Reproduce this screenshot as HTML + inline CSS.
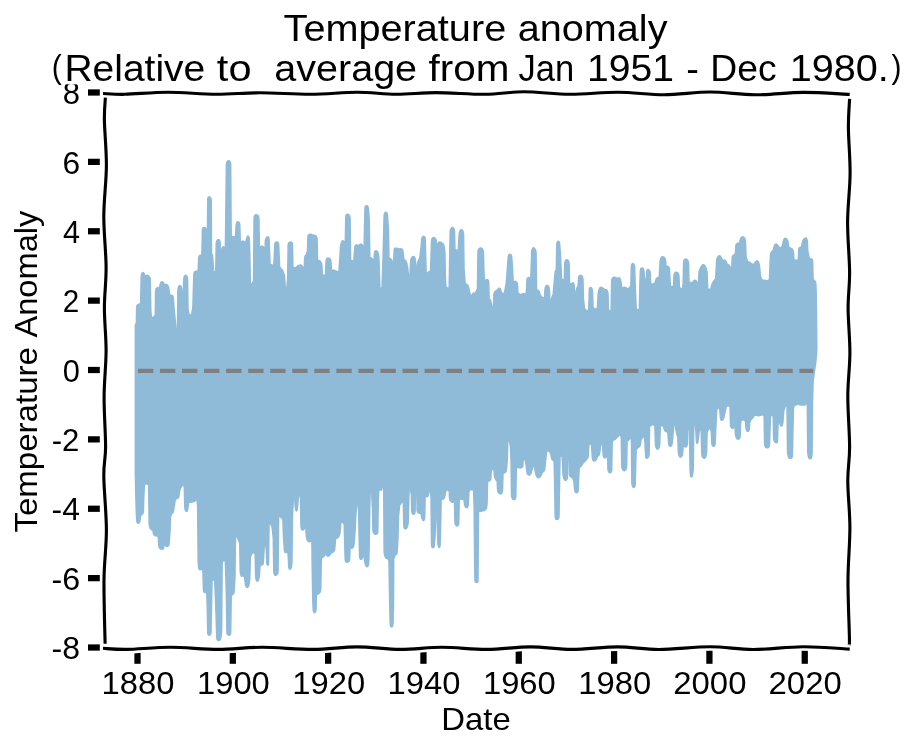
<!DOCTYPE html>
<html><head><meta charset="utf-8"><style>
html,body{margin:0;padding:0;background:#fff;overflow:hidden;}
svg{display:block;will-change:transform;}
text{font-family:"Liberation Sans", sans-serif;fill:#000;white-space:pre;}
</style></head><body>
<svg width="916" height="751" viewBox="0 0 916 751">
<rect width="916" height="751" fill="#fff"/>
<rect x="134.38" y="647" width="6.25" height="16.8" fill="#000"/>
<rect x="229.69" y="647" width="6.25" height="16.8" fill="#000"/>
<rect x="325.01" y="647" width="6.25" height="16.8" fill="#000"/>
<rect x="420.33" y="647" width="6.25" height="16.8" fill="#000"/>
<rect x="515.65" y="647" width="6.25" height="16.8" fill="#000"/>
<rect x="610.98" y="647" width="6.25" height="16.8" fill="#000"/>
<rect x="706.29" y="647" width="6.25" height="16.8" fill="#000"/>
<rect x="801.62" y="647" width="6.25" height="16.8" fill="#000"/>
<rect x="88" y="644.39" width="11.8" height="6.25" fill="#000"/>
<rect x="88" y="575.01" width="11.8" height="6.25" fill="#000"/>
<rect x="88" y="505.63" width="11.8" height="6.25" fill="#000"/>
<rect x="88" y="436.25" width="11.8" height="6.25" fill="#000"/>
<rect x="88" y="366.88" width="11.8" height="6.25" fill="#000"/>
<rect x="88" y="297.50" width="11.8" height="6.25" fill="#000"/>
<rect x="88" y="228.12" width="11.8" height="6.25" fill="#000"/>
<rect x="88" y="158.74" width="11.8" height="6.25" fill="#000"/>
<rect x="88" y="89.36" width="11.8" height="6.25" fill="#000"/>
<path d="M135.33,350.00 L135.33,326.43 Q135.33,324.43 135.86,323.76 L136.39,323.10 L136.63,307.79 Q136.66,305.79 137.32,305.12 L137.32,305.12 Q137.99,304.46 138.92,304.19 L139.85,303.93 L140.65,303.13 L141.15,277.17 Q141.19,275.17 141.72,273.84 L141.72,273.84 Q142.25,272.50 143.05,272.50 L143.05,272.50 Q143.85,272.50 144.25,273.84 L144.65,275.17 L145.98,275.70 L146.78,275.44 Q147.58,275.17 148.38,275.84 L148.38,275.84 Q149.17,276.50 149.70,277.16 L149.70,277.16 Q150.24,277.83 150.27,279.83 L150.77,309.79 L151.30,316.44 L152.64,317.78 L154.50,316.44 L155.30,315.11 L155.55,291.81 Q155.57,289.81 156.10,288.88 L156.10,288.88 Q156.63,287.95 157.43,287.55 L157.43,287.55 Q158.23,287.15 158.76,288.48 L159.29,289.81 L160.04,285.13 Q160.36,283.16 160.89,282.49 L160.89,282.49 Q161.42,281.82 162.22,281.82 L162.22,281.82 Q163.02,281.82 163.56,283.15 L164.09,284.49 L165.69,284.49 L166.49,284.49 Q167.28,284.49 167.95,285.82 L167.95,285.82 Q168.62,287.15 168.86,289.14 L169.41,293.81 L170.48,295.14 L171.28,295.14 Q172.08,295.14 172.61,295.81 L172.61,295.81 Q173.14,296.47 173.29,298.46 L173.94,307.12 L175.07,318.45 Q175.27,320.44 175.44,322.43 L176.60,336.42 L177.40,336.42 L177.92,290.48 Q177.94,288.48 178.47,287.15 L178.47,287.15 Q179.00,285.82 179.80,285.56 L179.80,285.56 Q180.60,285.29 181.13,286.88 L181.13,286.88 Q181.66,288.48 181.82,290.47 L182.20,295.14 L183.26,295.14 L183.73,279.83 Q183.79,277.83 184.32,276.50 L184.32,276.50 Q184.86,275.17 185.66,275.17 L185.66,275.17 Q186.46,275.17 186.99,276.50 L186.99,276.50 Q187.52,277.83 187.55,279.83 L188.06,309.79 L189.12,315.11 L190.72,315.11 L191.78,313.78 L192.85,307.12 L193.85,274.50 Q193.91,272.50 194.71,271.84 L194.71,271.84 Q195.51,271.17 196.05,271.17 L196.58,271.17 L198.18,271.17 L198.64,258.52 Q198.71,256.52 199.24,255.85 L199.24,255.85 Q199.77,255.19 200.57,255.19 L201.37,255.19 L201.90,253.86 L202.40,230.56 Q202.44,228.56 202.97,227.89 L202.97,227.89 Q203.50,227.23 204.30,227.50 L204.30,227.50 Q205.10,227.76 205.63,228.16 L205.63,228.16 Q206.17,228.56 206.22,230.56 L206.70,251.20 L207.23,253.86 L207.74,199.94 Q207.76,197.94 208.30,197.27 L208.30,197.27 Q208.83,196.60 209.63,197.00 L209.63,197.00 Q210.43,197.40 210.83,198.34 L210.83,198.34 Q211.23,199.27 211.24,201.27 L211.49,253.86 L212.03,254.53 Q212.56,255.19 212.69,257.19 L213.62,271.17 L214.69,272.50 L215.75,271.17 L216.24,243.88 Q216.28,241.88 216.81,240.94 L216.81,240.94 Q217.35,240.01 218.15,239.75 L218.15,239.75 Q218.95,239.48 219.48,240.01 L219.48,240.01 Q220.01,240.55 220.09,242.55 L220.55,253.86 L221.61,251.20 L221.88,249.18 Q222.14,247.20 222.94,246.80 L222.94,246.80 Q223.74,246.40 224.28,247.47 L224.28,247.47 Q224.81,248.54 225.01,250.53 L225.34,253.86 L226.38,165.32 Q226.40,163.32 226.94,161.99 L226.94,161.99 Q227.47,160.65 228.53,160.65 L228.53,160.65 Q229.60,160.65 230.13,161.72 L230.13,161.72 Q230.67,162.78 230.68,164.78 L231.20,240.55 L231.75,238.48 Q232.26,236.55 233.06,236.55 L233.06,236.55 Q233.86,236.55 234.66,237.22 L235.46,237.88 L235.89,229.23 Q235.99,227.23 236.21,225.24 L236.30,224.43 Q236.52,222.44 237.32,221.91 L237.32,221.91 Q238.12,221.37 238.92,222.31 L238.92,222.31 Q239.72,223.24 239.78,225.24 L240.25,240.55 L241.32,243.21 L241.58,242.55 Q241.85,241.88 242.38,241.22 L242.38,241.22 Q242.92,240.55 243.71,241.22 L243.71,241.22 Q244.51,241.88 245.05,242.55 L245.58,243.21 L245.85,241.88 Q246.11,240.55 246.63,238.62 L246.66,238.48 Q247.18,236.55 247.71,236.15 L247.71,236.15 Q248.24,235.75 248.78,236.81 L248.78,236.81 Q249.31,237.88 249.37,239.88 L249.78,254.52 Q249.84,256.52 249.88,258.52 L250.37,283.16 L251.44,284.49 L252.50,283.16 L253.57,280.49 L254.08,218.58 Q254.10,216.58 254.63,215.65 L254.63,215.65 Q255.17,214.71 256.24,214.71 L256.24,214.71 Q257.30,214.71 258.10,215.65 L258.10,215.65 Q258.89,216.58 258.92,218.58 L259.43,251.20 L259.98,249.13 Q260.49,247.20 261.02,246.53 L261.02,246.53 Q261.56,245.87 262.36,246.13 L262.36,246.13 Q263.16,246.40 263.69,247.47 L263.69,247.47 Q264.22,248.54 264.27,250.54 L264.75,269.84 L265.25,242.55 Q265.29,240.55 265.82,238.95 L265.82,238.95 Q266.35,237.35 267.15,236.95 L267.15,236.95 Q267.95,236.55 268.48,237.22 L268.48,237.22 Q269.01,237.88 269.09,239.88 L270.08,264.51 L270.62,264.51 Q271.15,264.51 272.48,265.18 L273.81,265.85 L274.78,245.21 Q274.87,243.21 275.40,242.55 L275.40,242.55 Q275.94,241.88 276.74,241.88 L276.74,241.88 Q277.54,241.88 278.07,242.55 L278.07,242.55 Q278.60,243.21 278.69,245.21 L279.67,267.18 L280.73,268.51 L281.53,269.17 Q282.33,269.84 282.87,271.17 L282.87,271.17 Q283.40,272.50 283.93,273.84 L283.93,273.84 Q284.46,275.17 284.59,277.17 L285.53,291.15 L286.59,291.15 L287.66,277.83 L288.16,245.21 Q288.19,243.21 288.99,242.55 L288.99,242.55 Q289.79,241.88 290.59,241.88 L290.59,241.88 Q291.38,241.88 291.91,242.55 L291.91,242.55 Q292.45,243.21 292.49,245.21 L292.98,269.84 L293.51,268.51 Q294.05,267.18 294.58,267.85 L295.11,268.51 L295.64,267.85 Q296.18,267.18 296.98,266.51 L296.98,266.51 Q297.78,265.85 298.57,265.45 L298.57,265.45 Q299.37,265.05 300.44,265.05 L300.44,265.05 Q301.50,265.05 302.30,266.12 L302.30,266.12 Q303.10,267.18 303.62,269.11 L304.17,271.17 L304.63,258.52 Q304.70,256.52 305.28,255.85 L305.86,255.19 L307.46,251.20 L307.92,237.22 Q307.99,235.22 308.79,234.56 L308.79,234.56 Q309.59,233.89 310.65,234.29 L311.72,234.69 L313.85,235.22 L314.92,235.49 Q315.98,235.75 316.51,236.81 L316.51,236.81 Q317.04,237.88 317.09,239.88 L317.58,260.52 L318.38,260.52 Q319.17,260.52 319.97,260.92 L319.97,260.92 Q320.77,261.32 321.30,262.91 L321.30,262.91 Q321.84,264.51 321.94,266.51 L322.37,274.63 L323.97,275.17 L325.57,275.17 L326.03,261.19 Q326.10,259.19 326.90,258.52 L326.90,258.52 Q327.70,257.86 328.76,258.26 L328.76,258.26 Q329.83,258.66 330.36,259.19 L330.36,259.19 Q330.89,259.72 330.98,261.72 L331.42,271.17 L331.96,270.77 Q332.49,270.37 333.29,270.11 L333.29,270.11 Q334.09,269.84 334.89,270.50 L335.69,271.17 L336.49,271.17 Q337.28,271.17 338.08,271.84 L338.88,272.50 L339.95,256.52 L340.38,247.87 Q340.48,245.87 341.06,243.95 L341.50,242.47 Q342.08,240.55 342.88,240.81 L342.88,240.81 Q343.68,241.08 344.48,242.15 L345.27,243.21 L345.77,217.25 Q345.81,215.25 346.61,214.58 L346.61,214.58 Q347.40,213.91 348.20,214.31 L348.20,214.31 Q349.00,214.71 349.53,215.65 L349.53,215.65 Q350.07,216.58 350.09,218.58 L350.60,260.52 L351.40,260.52 Q352.20,260.52 353.00,261.19 L353.79,261.85 L354.73,247.87 Q354.86,245.87 355.66,245.20 L355.66,245.20 Q356.46,244.54 357.26,245.20 L358.06,245.87 L358.86,245.20 Q359.65,244.54 360.45,244.14 L360.45,244.14 Q361.25,243.74 362.05,244.81 L362.05,244.81 Q362.85,245.87 363.05,247.86 L363.91,256.52 L364.94,208.46 Q364.98,206.46 365.78,205.93 L365.78,205.93 Q366.58,205.39 367.38,205.93 L367.38,205.93 Q368.18,206.46 368.35,208.45 L369.07,217.25 Q369.24,219.24 369.27,221.24 L369.77,257.86 L370.57,257.86 Q371.37,257.86 372.17,258.52 L372.17,258.52 Q372.97,259.19 373.50,260.52 L374.03,261.85 L374.47,253.20 Q374.57,251.20 375.37,250.94 L375.37,250.94 Q376.17,250.67 376.97,251.20 L376.97,251.20 Q377.76,251.73 378.20,253.68 L378.39,254.57 Q378.83,256.52 378.90,258.52 L379.89,288.48 L380.96,289.01 L382.02,287.15 L383.09,256.52 L384.10,215.91 Q384.15,213.91 384.95,212.84 L384.95,212.84 Q385.75,211.78 386.55,212.58 L386.55,212.58 Q387.35,213.38 387.48,215.38 L388.29,227.89 Q388.42,229.89 388.46,231.89 L388.95,257.86 L389.75,258.26 Q390.55,258.66 391.08,259.19 L391.08,259.19 Q391.61,259.72 391.88,260.79 L391.88,260.79 Q392.14,261.85 392.41,263.83 L393.21,269.84 L394.17,250.54 Q394.27,248.54 395.07,248.27 L395.07,248.27 Q395.87,248.00 396.67,248.27 L397.47,248.54 L399.07,249.07 L400.13,248.81 Q401.20,248.54 402.00,249.20 L402.00,249.20 Q402.80,249.87 403.03,251.86 L403.86,259.19 L404.66,259.86 Q405.46,260.52 405.99,261.19 L405.99,261.19 Q406.52,261.85 406.91,263.81 L407.20,265.22 Q407.59,267.18 407.79,269.17 L408.66,277.83 L409.72,279.16 L410.68,261.19 Q410.79,259.19 411.59,257.86 L411.59,257.86 Q412.38,256.52 413.18,256.52 L413.18,256.52 Q413.98,256.52 414.51,257.19 L414.51,257.19 Q415.05,257.86 415.28,259.85 L415.88,265.19 Q416.11,267.18 416.21,269.18 L416.64,277.83 L417.58,263.85 Q417.71,261.85 418.65,260.09 L419.84,257.86 L420.91,248.54 L421.78,239.34 Q421.97,237.35 422.77,236.55 L422.77,236.55 Q423.57,235.75 424.37,236.55 L424.37,236.55 Q425.17,237.35 425.23,239.35 L425.70,256.52 L426.23,275.17 L427.03,273.84 Q427.83,272.50 428.63,271.84 L428.63,271.84 Q429.43,271.17 429.96,271.84 L430.49,272.50 L431.50,241.21 Q431.56,239.21 432.36,238.28 L432.36,238.28 Q433.16,237.35 434.23,237.62 L434.23,237.62 Q435.29,237.88 435.82,239.22 L435.82,239.22 Q436.35,240.55 436.39,242.55 L436.88,267.18 L437.86,245.21 Q437.95,243.21 438.48,242.55 L438.48,242.55 Q439.01,241.88 439.81,241.88 L439.81,241.88 Q440.61,241.88 441.41,242.55 L442.21,243.21 L443.01,243.88 Q443.81,244.54 444.12,246.52 L444.56,249.22 Q444.87,251.20 444.91,253.20 L445.41,277.83 L445.94,287.15 L447.54,287.95 L449.13,288.48 L450.16,231.89 Q450.20,229.89 451.00,228.56 L451.00,228.56 Q451.80,227.23 452.60,227.50 L452.60,227.50 Q453.40,227.76 453.93,228.82 L453.93,228.82 Q454.46,229.89 454.51,231.89 L454.99,249.87 L455.79,249.87 Q456.59,249.87 457.39,250.53 L458.19,251.20 L459.14,234.56 Q459.25,232.56 460.05,230.96 L460.05,230.96 Q460.85,229.36 461.65,229.62 L461.65,229.62 Q462.45,229.89 462.99,231.22 L462.99,231.22 Q463.52,232.56 463.55,234.56 L464.05,269.84 L465.11,283.16 L466.71,284.49 L467.51,285.15 Q468.31,285.82 468.70,287.78 L469.37,291.15 L470.44,295.14 L472.04,295.14 L472.84,293.81 Q473.64,292.48 474.17,293.14 L474.70,293.81 L476.39,291.15 L477.46,288.48 L477.96,251.87 Q477.99,249.87 478.79,248.94 L478.79,248.94 Q479.59,248.00 480.65,248.00 L480.65,248.00 Q481.72,248.00 482.52,248.94 L482.52,248.94 Q483.32,249.87 483.38,251.87 L483.85,267.18 L484.38,283.16 L484.91,281.56 Q485.45,279.96 486.25,279.56 L486.25,279.56 Q487.04,279.16 487.84,279.83 L487.84,279.83 Q488.64,280.49 488.70,282.49 L489.17,299.13 L489.71,299.13 Q490.24,299.13 490.75,301.06 L490.79,301.20 Q491.30,303.13 491.69,305.09 L492.37,308.46 L493.44,307.12 L493.90,294.48 Q493.97,292.48 494.77,291.81 L494.77,291.81 Q495.57,291.15 496.63,290.48 L497.70,289.81 L498.23,288.88 Q498.76,287.95 499.56,288.22 L499.56,288.22 Q500.36,288.48 500.87,290.41 L501.42,292.48 L503.02,293.81 L504.62,292.48 L506.22,283.16 L507.28,269.84 L508.20,257.18 Q508.35,255.19 509.15,254.53 L509.15,254.53 Q509.95,253.86 510.75,254.53 L510.75,254.53 Q511.54,255.19 511.69,257.18 L512.46,267.85 Q512.61,269.84 512.70,271.84 L513.14,281.82 L513.94,281.42 Q514.74,281.03 515.54,281.42 L515.54,281.42 Q516.34,281.82 516.87,282.49 L516.87,282.49 Q517.40,283.16 517.50,285.16 L517.94,293.81 L518.74,293.81 Q519.53,293.81 520.33,294.48 L521.13,295.14 L521.93,294.21 Q522.73,293.28 523.53,293.54 L523.53,293.54 Q524.33,293.81 524.86,294.48 L525.39,295.14 L526.46,291.15 L526.90,281.16 Q526.99,279.16 527.52,278.23 L527.52,278.23 Q528.06,277.30 528.86,277.56 L528.86,277.56 Q529.65,277.83 530.18,279.16 L530.72,280.49 L531.71,251.87 Q531.78,249.87 532.58,248.53 L532.58,248.53 Q533.38,247.20 534.18,248.13 L534.18,248.13 Q534.98,249.07 535.51,250.13 L535.51,250.13 Q536.05,251.20 536.08,253.20 L536.58,289.81 L537.11,289.81 Q537.64,289.81 538.44,290.48 L538.44,290.48 Q539.24,291.15 539.76,293.08 L540.31,295.14 L541.37,296.47 L542.97,297.80 L544.57,297.80 L545.00,289.15 Q545.10,287.15 545.90,286.22 L545.90,286.22 Q546.70,285.29 547.50,285.56 L547.50,285.56 Q548.30,285.82 548.83,287.15 L548.83,287.15 Q549.36,288.48 549.46,290.48 L549.89,299.13 L550.96,303.13 L551.71,298.45 Q552.02,296.47 552.56,295.81 L553.09,295.14 L553.97,285.15 Q554.15,283.16 554.33,281.17 L555.04,273.16 Q555.22,271.17 555.75,270.50 L556.28,269.84 L556.78,245.21 Q556.82,243.21 557.35,242.15 L557.35,242.15 Q557.88,241.08 558.68,241.48 L558.68,241.48 Q559.48,241.88 559.63,243.87 L560.40,254.53 Q560.55,256.52 560.64,258.52 L561.61,280.49 L562.14,279.83 Q562.68,279.16 563.47,279.56 L564.27,279.96 L564.75,263.85 Q564.81,261.85 565.34,260.79 L565.34,260.79 Q565.87,259.72 566.67,259.72 L566.67,259.72 Q567.47,259.72 568.27,260.79 L568.27,260.79 Q569.07,261.85 569.12,263.85 L569.60,283.16 L570.67,284.49 L571.73,283.56 Q572.80,282.62 573.33,282.89 L573.33,282.89 Q573.86,283.16 574.06,285.15 L574.73,291.82 Q574.93,293.81 575.03,295.81 L575.46,304.46 L576.39,290.48 Q576.52,288.48 577.32,287.15 L578.12,285.82 L578.54,278.50 Q578.66,276.50 579.45,275.84 L579.45,275.84 Q580.25,275.17 581.05,275.44 L581.05,275.44 Q581.85,275.70 582.38,276.76 L582.38,276.76 Q582.92,277.83 582.97,279.83 L583.45,299.13 L584.51,308.46 L585.58,309.79 L587.18,311.12 L588.77,309.79 L589.26,290.48 Q589.31,288.48 589.84,287.81 L589.84,287.81 Q590.37,287.15 591.17,287.55 L591.17,287.55 Q591.97,287.95 592.24,289.55 L592.24,289.55 Q592.50,291.15 592.57,293.15 L593.04,307.12 L594.10,308.46 L595.70,309.25 L597.30,308.46 L598.24,293.15 Q598.36,291.15 599.10,289.29 L599.22,289.01 Q599.96,287.15 600.76,287.15 L600.76,287.15 Q601.56,287.15 602.36,287.81 L603.16,288.48 L605.29,289.81 L606.09,289.81 Q606.88,289.81 607.41,291.14 L607.41,291.14 Q607.95,292.48 608.01,294.48 L608.48,311.12 L610.08,311.12 L611.15,309.79 L611.65,281.16 Q611.68,279.16 612.48,278.23 L612.48,278.23 Q613.28,277.30 614.35,277.30 L614.35,277.30 Q615.41,277.30 616.20,277.83 L617.00,278.36 L617.80,278.10 Q618.60,277.83 619.13,277.83 L619.13,277.83 Q619.67,277.83 620.20,279.16 L620.20,279.16 Q620.73,280.49 621.00,282.47 L621.80,288.48 L622.60,287.81 Q623.40,287.15 624.19,287.15 L624.19,287.15 Q624.99,287.15 625.79,287.55 L625.79,287.55 Q626.59,287.95 627.12,288.48 L627.66,289.01 L628.72,288.48 L629.79,287.15 L630.85,285.82 L631.33,266.51 Q631.38,264.51 632.18,263.85 L632.18,263.85 Q632.98,263.18 633.78,264.12 L633.78,264.12 Q634.58,265.05 634.64,267.05 L635.11,283.16 L636.18,308.46 L637.78,309.79 L639.37,309.79 L639.87,285.16 Q639.91,283.16 639.98,281.16 L640.37,270.51 Q640.44,268.51 641.24,268.11 L641.24,268.11 Q642.04,267.71 642.84,268.11 L642.84,268.11 Q643.64,268.51 643.85,270.50 L645.86,289.81 L646.81,271.84 Q646.92,269.84 647.72,269.57 L647.72,269.57 Q648.52,269.31 649.32,270.24 L649.32,270.24 Q650.12,271.17 650.21,273.17 L650.65,283.16 L651.72,284.49 L652.52,284.09 Q653.32,283.69 654.12,283.43 L654.91,283.16 L655.46,281.09 Q655.98,279.16 656.78,278.23 L656.78,278.23 Q657.58,277.30 658.38,277.56 L659.17,277.83 L660.13,261.19 Q660.24,259.19 661.04,257.86 L661.04,257.86 Q661.84,256.52 662.90,256.79 L662.90,256.79 Q663.97,257.06 664.77,258.12 L664.77,258.12 Q665.57,259.19 665.70,261.19 L666.10,267.18 L666.90,266.51 Q667.70,265.85 668.50,266.51 L668.50,266.51 Q669.29,267.18 669.40,269.18 L670.36,285.82 L671.96,287.15 L673.56,285.82 L674.00,275.83 Q674.09,273.83 674.89,272.90 L674.89,272.90 Q675.69,271.97 676.76,272.24 L676.76,272.24 Q677.82,272.50 678.35,273.84 L678.35,273.84 Q678.88,275.17 678.97,277.17 L679.41,287.15 L681.01,289.01 L682.61,288.48 L683.14,283.16 L683.63,262.52 Q683.68,260.52 684.47,259.59 L684.47,259.59 Q685.27,258.66 686.34,259.19 L686.34,259.19 Q687.40,259.72 687.93,260.79 L687.93,260.79 Q688.47,261.85 688.52,263.85 L689.00,283.16 L689.80,282.49 Q690.60,281.82 691.40,282.49 L692.20,283.16 L693.00,281.83 Q693.79,280.49 694.59,280.23 L694.59,280.23 Q695.39,279.96 696.19,280.89 L696.19,280.89 Q696.99,281.82 697.31,283.79 L698.06,288.48 L699.00,273.17 Q699.12,271.17 699.86,269.31 L699.98,269.04 Q700.72,267.18 701.52,266.12 L701.52,266.12 Q702.32,265.05 703.12,264.78 L703.12,264.78 Q703.91,264.51 704.98,265.85 L704.98,265.85 Q706.05,267.18 706.44,269.14 L706.72,270.54 Q707.11,272.50 707.18,274.50 L707.64,288.48 L709.24,289.81 L710.84,288.48 L711.86,285.08 Q712.44,283.16 713.24,281.83 L713.24,281.83 Q714.03,280.49 714.83,279.83 L715.63,279.16 L716.59,261.19 Q716.70,259.19 717.50,257.59 L717.50,257.59 Q718.30,255.99 719.10,255.86 L719.10,255.86 Q719.89,255.73 720.69,256.80 L720.69,256.80 Q721.49,257.86 722.02,259.19 L722.56,260.52 L723.62,260.12 Q724.69,259.72 725.49,260.79 L725.49,260.79 Q726.28,261.85 726.82,263.18 L727.35,264.51 L728.15,264.78 Q728.95,265.05 729.75,266.12 L729.75,266.12 Q730.55,267.18 730.73,269.17 L731.61,279.16 L732.09,258.52 Q732.14,256.52 732.67,255.85 L732.67,255.85 Q733.21,255.19 734.28,254.53 L735.34,253.86 L735.76,246.54 Q735.87,244.54 736.67,243.88 L736.67,243.88 Q737.47,243.21 738.54,242.94 L739.60,242.68 L740.23,239.83 Q740.67,237.88 741.46,237.22 L741.46,237.22 Q742.26,236.55 743.33,236.95 L743.33,236.95 Q744.39,237.35 744.92,238.95 L744.92,238.95 Q745.46,240.55 745.53,242.55 L745.99,256.52 L747.59,261.85 L748.39,261.85 Q749.19,261.85 749.99,262.51 L749.99,262.51 Q750.79,263.18 751.59,263.85 L752.38,264.51 L753.98,263.98 L754.78,262.92 Q755.58,261.85 756.11,261.19 L756.11,261.19 Q756.64,260.52 757.44,260.92 L757.44,260.92 Q758.24,261.32 758.77,262.91 L758.77,262.91 Q759.31,264.51 759.51,266.50 L760.37,275.17 L761.44,279.16 L763.04,280.49 L764.11,280.23 Q765.17,279.96 765.96,280.50 L766.76,281.03 L767.30,280.76 Q767.83,280.49 768.63,280.23 L769.43,279.96 L770.41,255.86 Q770.49,253.86 771.02,252.80 L771.02,252.80 Q771.56,251.73 772.36,251.20 L773.16,250.67 L773.79,247.82 Q774.22,245.87 775.02,244.81 L775.02,244.81 Q775.82,243.74 776.62,244.14 L776.62,244.14 Q777.42,244.54 777.95,245.87 L778.48,247.20 L779.01,247.20 Q779.55,247.20 780.08,247.60 L780.61,248.00 L782.21,246.40 L783.38,241.16 Q783.81,239.21 784.61,238.55 L784.61,238.55 Q785.41,237.88 786.20,238.55 L786.20,238.55 Q787.00,239.21 787.54,240.55 L787.54,240.55 Q788.07,241.88 788.27,243.87 L788.60,247.20 L789.66,247.60 Q790.73,248.00 791.53,248.53 L791.53,248.53 Q792.33,249.07 792.87,250.13 L792.87,250.13 Q793.40,251.20 793.53,253.20 L793.93,259.19 L795.53,260.52 L796.33,260.12 Q797.12,259.72 797.65,260.79 L798.19,261.85 L798.64,250.54 Q798.72,248.54 799.25,247.87 L799.25,247.87 Q799.79,247.20 800.59,247.20 L801.38,247.20 L802.06,243.84 Q802.45,241.88 803.25,240.15 L803.25,240.15 Q804.05,238.42 805.12,238.15 L805.12,238.15 Q806.18,237.88 806.71,238.94 L806.71,238.94 Q807.24,240.01 807.34,242.01 L807.78,251.20 L809.37,258.66 L810.17,258.66 Q810.97,258.66 811.77,258.93 L811.77,258.93 Q812.57,259.19 812.62,261.19 L813.10,279.16 L814.17,280.49 L814.97,281.15 Q815.77,281.82 815.84,283.82 L816.23,294.47 Q816.30,296.47 816.32,298.47 L816.81,348.00 Q816.83,350.00 816.66,351.99 L815.94,360.62 Q815.77,362.61 815.47,364.59 L814.17,373.26 L813.10,381.25 L812.57,399.89 L812.06,453.82 Q812.04,455.82 811.50,457.41 L811.50,457.41 Q810.97,459.01 809.90,458.75 L809.90,458.75 Q808.84,458.48 808.45,456.52 L808.17,455.12 Q807.78,453.16 807.76,451.16 L807.24,399.89 L806.69,401.96 Q806.18,403.89 805.38,404.56 L805.38,404.56 Q804.58,405.22 803.78,404.96 L802.98,404.69 L802.18,404.96 Q801.38,405.22 800.59,404.96 L800.59,404.96 Q799.79,404.69 798.99,404.29 L798.19,403.89 L797.39,404.29 Q796.59,404.69 795.53,404.96 L794.46,405.22 L793.40,407.88 L792.37,455.15 Q792.33,457.15 791.53,457.81 L791.53,457.81 Q790.73,458.48 789.66,458.22 L789.66,458.22 Q788.60,457.95 788.17,456.00 L787.97,455.11 Q787.54,453.16 787.52,451.16 L787.00,405.22 L785.41,405.75 L783.81,410.55 L782.90,421.87 Q782.74,423.86 782.21,425.19 L782.21,425.19 Q781.68,426.52 780.88,425.86 L780.88,425.86 Q780.08,425.19 779.88,423.20 L779.01,414.54 L777.95,426.52 L777.49,440.50 Q777.42,442.50 776.36,442.77 L776.36,442.77 Q775.29,443.04 774.49,441.44 L774.49,441.44 Q773.69,439.84 773.65,437.84 L773.16,415.87 L772.09,415.34 L770.49,415.87 L769.50,444.50 Q769.43,446.50 768.63,447.16 L768.63,447.16 Q767.83,447.83 766.77,447.83 L766.77,447.83 Q765.70,447.83 765.16,446.50 L765.16,446.50 Q764.63,445.17 764.59,443.17 L764.10,415.87 L762.50,414.54 L761.43,414.94 Q760.37,415.34 759.57,415.61 L759.57,415.61 Q758.77,415.87 757.70,415.61 L756.64,415.34 L754.51,415.34 L753.44,416.67 Q752.38,418.00 751.59,418.94 L750.79,419.87 L749.72,422.53 L749.32,428.52 Q749.19,430.52 748.39,431.19 L748.39,431.19 Q747.59,431.85 746.79,430.52 L746.79,430.52 Q745.99,429.19 745.86,427.19 L745.46,421.20 L743.86,419.87 L742.26,419.87 L740.67,421.20 L740.20,435.18 Q740.13,437.18 739.60,438.25 L739.60,438.25 Q739.07,439.31 738.01,439.31 L738.01,439.31 Q736.94,439.31 736.31,437.41 L735.97,436.41 Q735.34,434.51 735.25,432.51 L734.81,422.53 L734.13,425.90 Q733.74,427.86 732.94,428.26 L732.94,428.26 Q732.14,428.66 731.35,427.59 L731.35,427.59 Q730.55,426.52 730.50,424.52 L730.01,406.55 L727.88,405.75 L726.28,406.55 L724.69,413.21 L723.98,417.10 Q723.62,419.07 722.56,419.87 L722.56,419.87 Q721.49,420.67 720.96,419.61 L720.96,419.61 Q720.43,418.54 720.30,416.54 L719.89,410.55 L719.36,407.88 L717.76,407.88 L716.70,410.55 L715.63,431.85 L715.18,443.17 Q715.10,445.17 714.30,445.84 L714.30,445.84 Q713.50,446.50 712.70,445.84 L712.70,445.84 Q711.90,445.17 711.82,443.17 L711.37,431.85 L710.31,427.86 L708.71,429.19 L707.11,431.85 L706.63,451.16 Q706.58,453.16 706.14,455.11 L705.95,456.00 Q705.51,457.95 704.44,458.22 L704.44,458.22 Q703.38,458.48 702.58,457.15 L702.58,457.15 Q701.78,455.82 701.74,453.82 L701.25,431.85 L699.65,426.52 L698.79,435.19 Q698.59,437.18 698.27,439.15 L697.84,441.86 Q697.52,443.83 696.99,443.16 L696.99,443.16 Q696.46,442.50 696.36,440.50 L695.93,431.85 L694.86,419.87 L693.79,421.20 L693.28,467.13 Q693.26,469.13 693.00,471.11 L692.46,475.14 Q692.20,477.12 691.40,477.12 L691.40,477.12 Q690.60,477.12 690.47,475.12 L690.20,471.13 Q690.07,469.13 690.04,467.13 L689.53,431.85 L689.00,421.20 L687.94,423.86 L687.45,443.17 Q687.40,445.17 686.61,446.24 L686.61,446.24 Q685.81,447.30 685.01,446.90 L685.01,446.90 Q684.21,446.50 683.67,445.84 L683.14,445.17 L682.72,452.49 Q682.61,454.49 682.08,455.82 L682.08,455.82 Q681.54,457.15 680.47,457.15 L680.47,457.15 Q679.41,457.15 678.90,455.22 L678.86,455.09 Q678.35,453.16 678.28,451.16 L677.82,437.18 L676.80,433.77 Q676.22,431.85 675.95,429.87 L675.15,423.86 L674.09,421.20 L673.18,432.52 Q673.02,434.51 672.82,436.50 L672.16,443.18 Q671.96,445.17 671.16,445.84 L671.16,445.84 Q670.36,446.50 669.56,445.84 L669.56,445.84 Q668.76,445.17 668.63,443.17 L668.23,437.18 L667.70,431.32 L666.90,431.59 Q666.10,431.85 665.30,431.19 L665.30,431.19 Q664.50,430.52 663.99,428.59 L663.44,426.52 L661.84,425.19 L660.24,426.52 L659.77,443.17 Q659.71,445.17 659.19,447.10 L659.16,447.23 Q658.64,449.16 657.58,449.16 L657.58,449.16 Q656.51,449.16 656.00,447.23 L655.96,447.10 Q655.45,445.17 655.39,443.17 L654.91,426.52 L653.32,424.39 L651.19,425.19 L649.59,426.52 L649.09,453.82 Q649.05,455.82 648.52,456.88 L648.52,456.88 Q647.99,457.95 646.92,458.22 L646.92,458.22 Q645.86,458.48 645.74,456.48 L644.70,438.59 L643.64,436.46 L642.57,437.26 L640.97,439.92 L640.64,443.26 Q640.44,445.25 639.90,445.91 L639.90,445.91 Q639.37,446.58 638.58,447.25 L638.58,447.25 Q637.78,447.91 636.98,448.58 L636.18,449.24 L635.17,484.52 Q635.11,486.52 634.32,487.19 L634.32,487.19 Q633.52,487.86 632.72,486.52 L632.72,486.52 Q631.92,485.19 631.90,483.19 L631.38,434.59 L630.83,436.66 Q630.32,438.59 629.52,439.25 L629.52,439.25 Q628.72,439.92 627.92,440.59 L627.12,441.25 L626.63,465.88 Q626.59,467.88 626.06,469.22 L626.06,469.22 Q625.53,470.55 624.46,470.81 L624.46,470.81 Q623.40,471.08 622.60,469.48 L622.60,469.48 Q621.80,467.88 621.76,465.88 L621.26,437.26 L620.20,434.59 L619.40,435.26 Q618.60,435.93 617.80,436.60 L617.00,437.26 L616.20,438.19 Q615.41,439.12 614.61,439.52 L613.81,439.92 L612.21,441.25 L611.71,469.88 Q611.68,471.88 610.62,472.54 L610.62,472.54 Q609.55,473.21 608.75,471.88 L608.75,471.88 Q607.95,470.55 607.91,468.55 L607.42,441.25 L606.48,455.23 Q606.35,457.23 605.55,457.89 L605.55,457.89 Q604.75,458.56 603.95,457.23 L603.95,457.23 Q603.16,455.90 603.06,453.90 L602.09,434.59 L601.71,439.79 Q601.56,441.78 601.12,443.73 L600.49,446.58 L599.68,453.12 Q599.43,455.10 598.63,455.50 L597.83,455.90 L597.30,457.23 Q596.76,458.56 596.23,459.50 L596.23,459.50 Q595.70,460.43 594.90,460.83 L594.90,460.83 Q594.10,461.23 593.30,460.56 L593.30,460.56 Q592.50,459.89 592.37,457.89 L591.44,443.91 L589.84,443.91 L588.77,445.25 L588.33,455.23 Q588.24,457.23 587.71,457.89 L587.71,457.89 Q587.18,458.56 586.64,459.23 L586.11,459.89 L585.58,460.56 Q585.05,461.23 584.25,461.89 L583.45,462.56 L582.65,463.89 Q581.85,465.22 581.32,465.88 L581.32,465.88 Q580.79,466.55 579.99,467.22 L579.19,467.88 L578.66,478.54 L578.20,489.85 Q578.12,491.85 577.32,492.51 L577.32,492.51 Q576.52,493.18 575.72,492.51 L575.72,492.51 Q574.93,491.85 574.73,489.86 L573.86,481.20 L572.80,478.00 L572.00,477.60 Q571.20,477.20 570.40,476.53 L570.40,476.53 Q569.60,475.87 569.56,473.87 L569.07,447.91 L568.00,446.58 L567.50,476.54 Q567.47,478.54 566.93,479.21 L566.93,479.21 Q566.40,479.87 565.61,480.27 L565.61,480.27 Q564.81,480.67 564.01,478.94 L564.01,478.94 Q563.21,477.20 563.10,475.20 L562.14,457.23 L561.08,454.57 L560.01,457.23 L559.48,486.52 L558.98,516.48 Q558.95,518.48 557.88,519.14 L557.88,519.14 Q556.82,519.81 556.02,519.14 L556.02,519.14 Q555.22,518.48 555.19,516.48 L554.69,486.52 L554.15,461.23 L553.36,460.56 Q552.56,459.89 552.02,459.23 L552.02,459.23 Q551.49,458.56 551.23,456.58 L550.96,454.57 L549.89,451.90 L548.30,450.57 L546.70,451.37 L545.63,459.89 L544.77,468.56 Q544.57,470.55 543.77,471.22 L542.97,471.88 L541.90,473.21 L541.37,474.54 Q540.84,475.87 540.31,476.53 L540.31,476.53 Q539.77,477.20 538.97,477.60 L538.97,477.60 Q538.18,478.00 537.38,477.20 L537.38,477.20 Q536.58,476.40 536.05,474.80 L536.05,474.80 Q535.51,473.21 535.20,471.23 L534.45,466.55 L532.85,466.55 L531.78,470.55 L531.23,472.61 Q530.72,474.54 529.65,474.94 L529.65,474.94 Q528.59,475.34 527.79,474.27 L527.79,474.27 Q526.99,473.21 526.76,471.22 L525.93,463.89 L524.86,458.56 L523.26,459.89 L522.87,465.36 Q522.73,467.35 521.93,467.62 L521.93,467.62 Q521.13,467.88 520.33,467.88 L520.33,467.88 Q519.53,467.88 518.74,467.62 L517.94,467.35 L516.34,467.88 L515.85,495.18 Q515.81,497.18 515.54,498.25 L515.54,498.25 Q515.27,499.31 514.20,499.57 L514.20,499.57 Q513.14,499.84 512.34,498.51 L512.34,498.51 Q511.54,497.18 511.51,495.18 L511.01,459.89 L510.48,446.58 L509.41,440.72 L507.82,441.25 L507.34,457.89 Q507.28,459.89 507.10,461.88 L506.40,469.89 Q506.22,471.88 505.42,472.28 L505.42,472.28 Q504.62,472.68 503.82,472.94 L503.02,473.21 L502.55,489.85 Q502.49,491.85 501.96,492.92 L501.96,492.92 Q501.42,493.98 500.36,493.98 L500.36,493.98 Q499.29,493.98 498.50,492.92 L498.50,492.92 Q497.70,491.85 497.60,489.85 L497.16,481.20 L496.63,480.53 Q496.10,479.87 495.30,478.53 L495.30,478.53 Q494.50,477.20 494.37,475.20 L493.97,469.21 L492.90,469.21 L491.30,470.55 L490.88,477.87 Q490.77,479.87 489.97,480.53 L489.97,480.53 Q489.17,481.20 488.38,481.20 L487.58,481.20 L487.09,503.17 Q487.04,505.17 486.61,507.12 L486.41,508.01 Q485.98,509.96 484.04,510.45 L481.72,511.03 L480.65,511.42 Q479.59,511.82 479.07,509.89 L478.52,507.83 L478.00,580.40 Q477.99,582.40 476.52,582.40 L476.52,582.40 Q475.06,582.40 475.01,580.40 L474.75,571.13 Q474.70,569.13 474.68,567.13 L474.17,507.88 L473.64,490.57 L472.57,489.77 L469.91,489.77 L468.84,491.90 L468.39,503.22 Q468.31,505.22 467.77,506.55 L467.77,506.55 Q467.24,507.88 466.44,507.62 L466.44,507.62 Q465.65,507.35 465.12,506.29 L465.12,506.29 Q464.58,505.22 464.38,503.23 L464.05,499.89 L463.25,499.62 Q462.45,499.36 461.65,498.96 L460.85,498.56 L459.25,499.89 L458.76,523.19 Q458.72,525.19 457.65,525.86 L457.65,525.86 Q456.59,526.52 455.79,525.19 L455.79,525.19 Q454.99,523.86 454.95,521.86 L454.46,499.89 L454.19,500.56 Q453.93,501.23 453.13,501.89 L453.13,501.89 Q452.33,502.56 451.53,501.89 L451.53,501.89 Q450.73,501.23 450.20,500.56 L450.20,500.56 Q449.67,499.89 449.56,497.89 L449.13,489.77 L448.60,490.17 Q448.07,490.57 447.53,490.17 L447.00,489.77 L445.94,490.57 L445.26,493.94 Q444.87,495.90 444.34,497.63 L444.34,497.63 Q443.81,499.36 443.01,499.10 L442.21,498.83 L441.15,499.89 L440.65,524.52 Q440.61,526.52 440.56,528.52 L440.13,544.50 Q440.08,546.50 439.54,547.16 L439.54,547.16 Q439.01,547.83 438.48,546.50 L438.48,546.50 Q437.95,545.17 437.89,543.17 L436.88,510.55 L435.82,509.21 L435.34,529.85 Q435.29,531.85 435.15,533.85 L434.36,545.30 Q434.22,547.30 433.42,547.57 L433.42,547.57 Q432.62,547.83 432.09,547.16 L432.09,547.16 Q431.56,546.50 431.54,544.50 L431.03,497.23 L429.96,486.58 L428.89,491.90 L428.22,495.27 Q427.83,497.23 427.03,496.56 L426.23,495.90 L425.17,497.23 L424.68,517.87 Q424.63,519.87 423.84,520.27 L423.84,520.27 Q423.04,520.67 422.50,519.61 L422.50,519.61 Q421.97,518.54 421.58,516.58 L420.91,513.21 L419.84,513.21 Q418.77,513.21 417.98,512.55 L417.98,512.55 Q417.18,511.88 417.14,509.88 L416.64,485.25 L415.58,483.91 L415.09,511.21 Q415.05,513.21 414.25,513.88 L414.25,513.88 Q413.45,514.54 412.65,513.88 L412.65,513.88 Q411.85,513.21 411.79,511.21 L411.32,494.57 L410.25,487.91 L409.19,486.58 L408.18,521.86 Q408.12,523.86 407.61,525.79 L407.57,525.93 Q407.06,527.86 406.26,528.53 L406.26,528.53 Q405.46,529.19 404.66,528.53 L404.66,528.53 Q403.86,527.86 403.82,525.86 L403.33,502.56 L402.26,501.23 L401.73,502.16 Q401.20,503.09 400.40,504.15 L399.60,505.22 L398.54,515.87 L398.05,535.18 Q398.00,537.18 397.88,539.18 L397.06,552.49 Q396.94,554.49 396.14,554.49 L395.34,554.49 L393.74,558.48 L393.49,604.42 Q393.48,606.42 393.42,608.42 L393.00,623.59 Q392.94,625.59 392.27,626.53 L392.27,626.53 Q391.61,627.46 390.94,626.53 L390.94,626.53 Q390.28,625.59 390.22,623.59 L389.81,608.42 Q389.75,606.42 389.71,604.42 L388.95,561.15 L388.42,558.48 L387.62,558.75 Q386.82,559.01 386.02,558.08 L386.02,558.08 Q385.22,557.15 384.70,555.22 L384.67,555.09 Q384.15,553.16 384.14,551.16 L383.62,477.26 L382.82,483.27 Q382.56,485.25 382.17,487.21 L381.88,488.61 Q381.49,490.57 380.69,490.17 L380.69,490.17 Q379.89,489.77 379.36,488.84 L378.83,487.91 L378.30,499.89 L377.79,531.18 Q377.76,533.18 377.23,533.58 L377.23,533.58 Q376.70,533.98 375.63,534.25 L375.63,534.25 Q374.57,534.51 373.77,533.18 L373.77,533.18 Q372.97,531.85 372.93,529.85 L372.44,507.88 L371.37,487.91 L370.31,486.58 L369.77,507.88 L369.27,540.50 Q369.24,542.50 369.19,544.50 L368.76,561.81 Q368.71,563.81 368.17,565.40 L368.17,565.40 Q367.64,567.00 366.85,566.74 L366.85,566.74 Q366.05,566.47 365.47,564.55 L365.03,563.07 Q364.45,561.15 364.37,559.15 L363.91,547.83 L363.08,555.16 Q362.85,557.15 362.05,558.48 L362.05,558.48 Q361.25,559.81 360.45,559.14 L360.45,559.14 Q359.65,558.48 359.60,556.48 L359.17,539.18 Q359.12,537.18 359.08,535.18 L358.59,507.88 L358.06,493.24 L357.17,503.23 Q356.99,505.22 356.73,507.20 L355.93,513.21 L354.96,532.51 Q354.86,534.51 354.68,536.50 L353.97,544.51 Q353.79,546.50 353.00,547.43 L353.00,547.43 Q352.20,548.36 351.13,548.10 L350.07,547.83 L349.61,559.15 Q349.53,561.15 349.00,561.41 L348.47,561.68 L347.67,562.08 Q346.87,562.48 346.07,561.82 L346.07,561.82 Q345.27,561.15 345.20,559.15 L344.81,547.17 Q344.74,545.17 344.69,543.17 L344.21,523.86 L342.61,522.53 L341.01,521.20 L340.13,531.19 Q339.95,533.18 339.41,534.91 L339.41,534.91 Q338.88,536.64 337.81,537.58 L337.81,537.58 Q336.75,538.51 336.22,537.85 L335.69,537.18 L334.78,548.50 Q334.62,550.49 334.09,551.15 L334.09,551.15 Q333.56,551.82 332.76,552.22 L331.96,552.62 L330.89,553.16 L330.36,554.22 Q329.83,555.29 329.03,555.82 L329.03,555.82 Q328.23,556.35 327.43,556.09 L327.43,556.09 Q326.63,555.82 326.53,553.82 L326.10,545.17 L325.68,552.49 Q325.57,554.49 325.03,555.15 L325.03,555.15 Q324.50,555.82 323.70,556.49 L322.90,557.15 L321.30,558.48 L320.80,588.44 Q320.77,590.44 320.24,591.77 L320.24,591.77 Q319.71,593.10 318.64,593.76 L318.64,593.76 Q317.58,594.43 317.04,593.76 L316.51,593.10 L316.04,608.41 Q315.98,610.41 315.45,611.75 L315.45,611.75 Q314.91,613.08 314.12,612.41 L314.12,612.41 Q313.32,611.74 313.22,609.74 L312.88,603.09 Q312.78,601.09 312.75,599.09 L312.28,571.13 Q312.25,569.13 312.22,567.13 L311.72,531.85 L311.31,538.37 Q311.19,540.37 310.39,541.17 L310.39,541.17 Q309.59,541.97 308.52,541.57 L308.52,541.57 Q307.46,541.17 306.94,539.24 L306.91,539.11 Q306.39,537.18 306.26,535.18 L305.33,521.20 L304.44,527.71 Q304.17,529.69 303.11,529.96 L303.11,529.96 Q302.04,530.22 301.50,528.89 L301.50,528.89 Q300.97,527.56 300.94,525.56 L300.44,495.60 L299.37,494.27 L298.31,498.26 L297.42,508.26 Q297.24,510.25 296.71,510.91 L296.71,510.91 Q296.18,511.58 295.79,509.62 L295.50,508.21 Q295.11,506.25 295.02,504.25 L294.58,494.27 L293.52,495.60 L292.45,516.90 L291.94,560.18 Q291.92,562.18 291.74,564.17 L291.56,566.05 Q291.38,568.04 290.59,568.84 L290.59,568.84 Q289.79,569.63 289.25,568.57 L289.25,568.57 Q288.72,567.50 288.64,565.50 L288.19,554.19 L287.12,551.52 L286.32,552.19 Q285.53,552.86 285.00,552.19 L285.00,552.19 Q284.46,551.52 284.33,549.52 L283.53,537.55 Q283.40,535.55 283.33,533.55 L282.86,519.57 L281.80,518.24 L279.67,516.37 L278.60,516.90 L278.09,570.83 Q278.07,572.83 277.53,573.89 L277.53,573.89 Q277.00,574.96 275.94,575.23 L275.94,575.23 Q274.87,575.49 274.34,574.16 L274.34,574.16 Q273.81,572.83 273.78,570.83 L273.28,538.21 L272.21,527.56 L271.15,524.89 L270.08,522.23 L269.01,524.89 L268.51,563.37 Q268.48,565.37 267.68,565.11 L267.68,565.11 Q266.88,564.84 266.80,562.84 L266.35,551.52 L265.29,539.54 L264.22,546.20 L263.27,562.84 Q263.16,564.84 262.36,564.84 L261.56,564.84 L259.96,566.17 L259.54,573.49 Q259.43,575.49 259.04,577.45 L258.75,578.86 Q258.36,580.82 257.56,581.09 L257.56,581.09 Q256.76,581.35 256.23,579.75 L256.23,579.75 Q255.70,578.16 255.66,576.16 L255.17,554.19 L254.10,551.52 L253.57,552.19 Q253.04,552.86 252.24,553.53 L251.44,554.19 L250.37,556.85 L249.89,576.16 Q249.84,578.16 249.57,580.14 L249.04,584.17 Q248.77,586.15 247.98,586.82 L247.98,586.82 Q247.18,587.48 246.38,586.82 L246.38,586.82 Q245.58,586.15 245.35,584.16 L244.51,576.82 L242.92,575.49 L242.12,576.15 Q241.32,576.82 240.80,574.89 L240.77,574.76 Q240.25,572.83 240.21,570.83 L239.72,543.54 L238.66,540.34 L238.12,539.28 Q237.59,538.21 237.06,536.88 L236.52,535.55 L235.46,536.88 L234.96,576.16 Q234.93,578.16 234.80,580.16 L233.99,592.13 Q233.86,594.13 233.06,594.13 L232.26,594.13 L231.20,596.80 L230.70,632.61 Q230.67,634.61 229.60,635.01 L229.60,635.01 Q228.54,635.41 227.74,634.75 L227.74,634.75 Q226.94,634.08 226.91,632.08 L226.40,596.80 L225.34,560.85 L223.21,560.85 L222.14,562.18 L221.63,629.42 Q221.61,631.42 221.36,633.40 L220.80,637.96 Q220.55,639.94 219.49,640.34 L219.49,640.34 Q218.42,640.74 217.62,640.08 L217.62,640.08 Q216.82,639.41 216.76,637.41 L215.75,604.79 L214.69,580.82 L213.62,579.49 L212.02,580.82 L211.00,632.61 Q210.96,634.61 209.90,635.01 L209.90,635.01 Q208.83,635.41 208.30,634.75 L208.30,634.75 Q207.76,634.08 207.72,632.08 L207.23,604.79 L206.70,591.47 L205.90,592.13 Q205.10,592.80 204.30,592.13 L204.30,592.13 Q203.50,591.47 203.44,589.47 L202.97,572.83 L202.44,562.18 L202.06,566.84 Q201.90,568.83 201.11,569.50 L201.11,569.50 Q200.31,570.17 199.51,569.50 L199.51,569.50 Q198.71,568.83 198.55,566.84 L198.34,564.17 Q198.18,562.18 198.16,560.18 L197.64,506.25 L196.58,496.93 L196.03,499.00 Q195.51,500.93 194.71,501.19 L193.91,501.46 L193.12,501.86 Q192.32,502.26 191.25,502.26 L190.19,502.26 L188.59,502.26 L187.76,509.06 Q187.52,511.05 186.73,511.31 L186.73,511.31 Q185.93,511.58 185.40,510.25 L185.40,510.25 Q184.86,508.91 184.81,506.91 L184.33,487.61 L183.26,482.28 L182.71,484.35 Q182.20,486.28 181.40,486.94 L180.60,487.61 L179.53,491.60 L178.78,496.28 Q178.47,498.26 177.67,498.26 L176.87,498.26 L175.27,499.59 L174.52,504.27 Q174.21,506.25 173.89,508.22 L173.46,510.94 Q173.14,512.91 172.34,513.31 L171.54,513.71 L170.48,516.90 L170.02,530.88 Q169.95,532.88 169.78,534.87 L169.05,543.68 Q168.88,545.67 168.08,546.20 L168.08,546.20 Q167.28,546.73 166.49,546.47 L166.49,546.47 Q165.69,546.20 165.30,544.24 L164.62,540.87 L163.82,546.88 Q163.56,548.86 162.76,549.12 L162.76,549.12 Q161.96,549.39 160.90,549.12 L160.90,549.12 Q159.83,548.86 159.30,547.53 L159.30,547.53 Q158.76,546.20 158.66,544.20 L158.23,535.55 L157.43,535.82 Q156.63,536.08 155.56,535.82 L155.56,535.82 Q154.50,535.55 153.97,534.88 L153.97,534.88 Q153.44,534.21 153.17,532.23 L152.90,530.22 L152.37,529.96 Q151.84,529.69 151.04,529.29 L151.04,529.29 Q150.24,528.89 149.72,526.96 L149.69,526.82 Q149.17,524.89 149.14,522.89 L148.64,484.95 L147.58,484.41 L145.98,483.62 L144.38,484.95 L143.85,495.60 L143.38,510.91 Q143.32,512.91 142.78,513.58 L142.78,513.58 Q142.25,514.24 141.45,514.90 L140.65,515.57 L139.88,520.78 Q139.59,522.76 138.79,523.16 L138.79,523.16 Q137.99,523.56 137.45,522.89 L137.45,522.89 Q136.92,522.23 136.79,520.23 L136.52,516.24 Q136.39,514.24 136.32,512.24 L135.93,500.26 Q135.86,498.26 135.82,496.26 L135.37,473.63 Q135.33,471.63 135.33,469.63 L135.33,445.00 Z" fill="#8fbbd9" stroke="#8fbbd9" stroke-width="1.5" stroke-linejoin="round"/>
<line x1="137.9" y1="370.9" x2="813.3" y2="370.9" stroke="#808080" stroke-width="4.1" stroke-dasharray="15.4 6.65"/>
<path d="M103,648.3 C107.0,648.5 115.8,649.6 127,649.4 C138.2,649.2 155.3,647.3 170.5,647.3 C185.7,647.3 202.8,649.4 218,649.4 C233.2,649.4 246.2,647.3 262,647.3 C277.8,647.3 297.2,649.5 313,649.4 C328.8,649.3 342.5,646.9 357,646.9 C371.5,646.9 385.8,649.3 400,649.4 C414.2,649.5 427.5,647.3 442,647.3 C456.5,647.3 472.2,649.5 487,649.4 C501.8,649.3 516.3,646.9 530.5,646.9 C544.7,646.9 557.5,649.4 572,649.4 C586.5,649.4 603.2,646.9 617.7,646.9 C632.2,646.9 643.6,649.5 659,649.5 C674.4,649.5 694.3,646.7 710,646.7 C725.7,646.7 737.5,649.5 753,649.5 C768.5,649.5 786.9,646.8 803,646.7 C819.1,646.6 841.9,648.7 849.7,649.1" fill="none" stroke="#fff" stroke-width="8.33" stroke-linecap="butt"/>
<path d="M103,93.5 C106.7,93.6 114.2,94.5 125,94.3 C135.8,94.1 152.8,92.2 168,92.2 C183.2,92.2 200.7,94.2 216,94.3 C231.3,94.4 244.2,92.8 260,92.8 C275.8,92.8 294.8,94.4 311,94.3 C327.2,94.2 342.8,92.2 357,92.2 C371.2,92.2 382.8,94.2 396,94.3 C409.2,94.4 421.2,92.6 436,92.6 C450.8,92.6 470.3,94.4 485,94.3 C499.7,94.2 509.8,91.8 524,91.8 C538.2,91.8 554.3,94.2 570,94.3 C585.7,94.4 602.3,92.1 618,92.2 C633.7,92.3 648.7,94.8 664,94.8 C679.3,94.8 694.8,92.0 710,92.0 C725.2,92.0 739.5,94.7 755,94.8 C770.5,94.9 787.2,92.5 803,92.4 C818.8,92.3 841.9,94.1 849.7,94.4" fill="none" stroke="#000" stroke-width="3.125" stroke-linecap="butt"/>
<path d="M103,648.3 C107.0,648.5 115.8,649.6 127,649.4 C138.2,649.2 155.3,647.3 170.5,647.3 C185.7,647.3 202.8,649.4 218,649.4 C233.2,649.4 246.2,647.3 262,647.3 C277.8,647.3 297.2,649.5 313,649.4 C328.8,649.3 342.5,646.9 357,646.9 C371.5,646.9 385.8,649.3 400,649.4 C414.2,649.5 427.5,647.3 442,647.3 C456.5,647.3 472.2,649.5 487,649.4 C501.8,649.3 516.3,646.9 530.5,646.9 C544.7,646.9 557.5,649.4 572,649.4 C586.5,649.4 603.2,646.9 617.7,646.9 C632.2,646.9 643.6,649.5 659,649.5 C674.4,649.5 694.3,646.7 710,646.7 C725.7,646.7 737.5,649.5 753,649.5 C768.5,649.5 786.9,646.8 803,646.7 C819.1,646.6 841.9,648.7 849.7,649.1" fill="none" stroke="#000" stroke-width="3.125" stroke-linecap="butt"/>
<path d="M105.4,97.6 C105.2,101.4 104.2,109.0 104.4,120.4 C104.6,131.8 106.5,150.0 106.4,166 C106.3,182.0 103.8,199.7 103.8,216.6 C103.8,233.5 106.0,252.0 106.1,267.2 C106.2,282.4 104.4,294.0 104.4,308 C104.4,322.0 106.1,336.2 106.1,351 C106.0,365.8 104.2,380.6 104.1,396.6 C104.0,412.6 105.6,433.8 105.6,447 C105.5,460.2 103.7,461.9 103.8,475.8 C103.9,489.7 106.4,513.0 106.4,530.3 C106.4,547.6 104.2,560.8 104,579.7 C103.8,598.6 104.9,633.0 105.1,643.7" fill="none" stroke="#000" stroke-width="3.125" stroke-linecap="butt"/>
<path d="M849.6,98.9 C849.4,103.8 848.3,115.6 848.4,128 C848.5,140.4 850.2,157.9 850.1,173.5 C850.0,189.1 847.7,205.2 847.6,221.6 C847.5,238.0 849.5,257.6 849.6,272 C849.7,286.4 848.1,294.4 848.1,308 C848.1,321.6 850.0,338.7 849.9,353.5 C849.8,368.3 847.8,381.0 847.8,396.6 C847.8,412.2 849.6,432.9 849.6,447 C849.6,461.1 847.8,467.6 847.8,481 C847.8,494.4 849.9,511.3 849.9,527.7 C849.9,544.2 848.1,561.5 848,579.7 C847.9,597.9 849.2,626.0 849.4,636.8 C849.6,647.6 849.2,643.3 849.2,644.6" fill="none" stroke="#000" stroke-width="3.125" stroke-linecap="butt"/>
<text x="51.63" y="659.22" font-size="31.05" textLength="28.45" lengthAdjust="spacingAndGlyphs">-8</text>
<text x="51.62" y="589.84" font-size="31.05" textLength="28.61" lengthAdjust="spacingAndGlyphs">-6</text>
<text x="51.64" y="520.46" font-size="30.97" textLength="28.32" lengthAdjust="spacingAndGlyphs">-4</text>
<text x="51.67" y="451.08" font-size="31.05" textLength="27.66" lengthAdjust="spacingAndGlyphs">-2</text>
<text x="62.80" y="381.70" font-size="31.05" textLength="17.16" lengthAdjust="spacingAndGlyphs">0</text>
<text x="62.77" y="312.32" font-size="31.05" textLength="16.49" lengthAdjust="spacingAndGlyphs">2</text>
<text x="62.91" y="242.94" font-size="30.97" textLength="17.03" lengthAdjust="spacingAndGlyphs">4</text>
<text x="62.60" y="173.56" font-size="31.05" textLength="17.63" lengthAdjust="spacingAndGlyphs">6</text>
<text x="62.79" y="104.18" font-size="31.05" textLength="17.26" lengthAdjust="spacingAndGlyphs">8</text>
<text x="101.63" y="693.70" font-size="31.05" textLength="72.89" lengthAdjust="spacingAndGlyphs">1880</text>
<text x="196.95" y="693.70" font-size="31.05" textLength="72.89" lengthAdjust="spacingAndGlyphs">1900</text>
<text x="292.27" y="693.70" font-size="31.05" textLength="72.89" lengthAdjust="spacingAndGlyphs">1920</text>
<text x="387.59" y="693.70" font-size="31.05" textLength="72.89" lengthAdjust="spacingAndGlyphs">1940</text>
<text x="482.91" y="693.70" font-size="31.05" textLength="72.89" lengthAdjust="spacingAndGlyphs">1960</text>
<text x="578.23" y="693.70" font-size="31.05" textLength="72.89" lengthAdjust="spacingAndGlyphs">1980</text>
<text x="673.27" y="693.70" font-size="31.05" textLength="73.18" lengthAdjust="spacingAndGlyphs">2000</text>
<text x="768.59" y="693.70" font-size="31.05" textLength="73.18" lengthAdjust="spacingAndGlyphs">2020</text>
<text x="441.27" y="730.10" font-size="30.97" textLength="69.53" lengthAdjust="spacingAndGlyphs">Date</text>
<text transform="translate(37.0,370.8) rotate(-90)" x="-161.82" y="0.00" font-size="30.97" textLength="185.53" lengthAdjust="spacingAndGlyphs">Temperature</text>
<text transform="translate(37.0,370.8) rotate(-90)" x="33.19" y="0.00" font-size="30.97" textLength="127.08" lengthAdjust="spacingAndGlyphs">Anomaly</text>
<rect x="60" y="78" width="22" height="6.3" fill="#fff"/>
<text x="283.59" y="41.30" font-size="37.16" textLength="222.61" lengthAdjust="spacingAndGlyphs">Temperature</text>
<text x="517.82" y="41.30" font-size="37.16" textLength="149.65" lengthAdjust="spacingAndGlyphs">anomaly</text>
<text x="51.72" y="78.22" font-size="33.40" textLength="9.99" lengthAdjust="spacingAndGlyphs">(</text>
<text x="64.48" y="80.60" font-size="37.16" textLength="140.77" lengthAdjust="spacingAndGlyphs">Relative</text>
<text x="216.89" y="80.60" font-size="37.16" textLength="34.63" lengthAdjust="spacingAndGlyphs">to</text>
<text x="274.36" y="80.60" font-size="37.16" textLength="142.71" lengthAdjust="spacingAndGlyphs">average</text>
<text x="428.53" y="80.60" font-size="37.16" textLength="80.94" lengthAdjust="spacingAndGlyphs">from</text>
<text x="518.57" y="80.60" font-size="37.16" textLength="55.69" lengthAdjust="spacingAndGlyphs">Jan</text>
<text x="586.93" y="80.60" font-size="37.26" textLength="86.95" lengthAdjust="spacingAndGlyphs">1951</text>
<text x="686.26" y="80.60" font-size="37.16" textLength="12.62" lengthAdjust="spacingAndGlyphs">-</text>
<text x="710.31" y="80.60" font-size="37.16" textLength="66.26" lengthAdjust="spacingAndGlyphs">Dec</text>
<text x="789.70" y="80.60" font-size="37.16" textLength="99.11" lengthAdjust="spacingAndGlyphs">1980.</text>
<text x="891.60" y="78.22" font-size="33.40" textLength="9.99" lengthAdjust="spacingAndGlyphs">)</text>
</svg>
</body></html>
